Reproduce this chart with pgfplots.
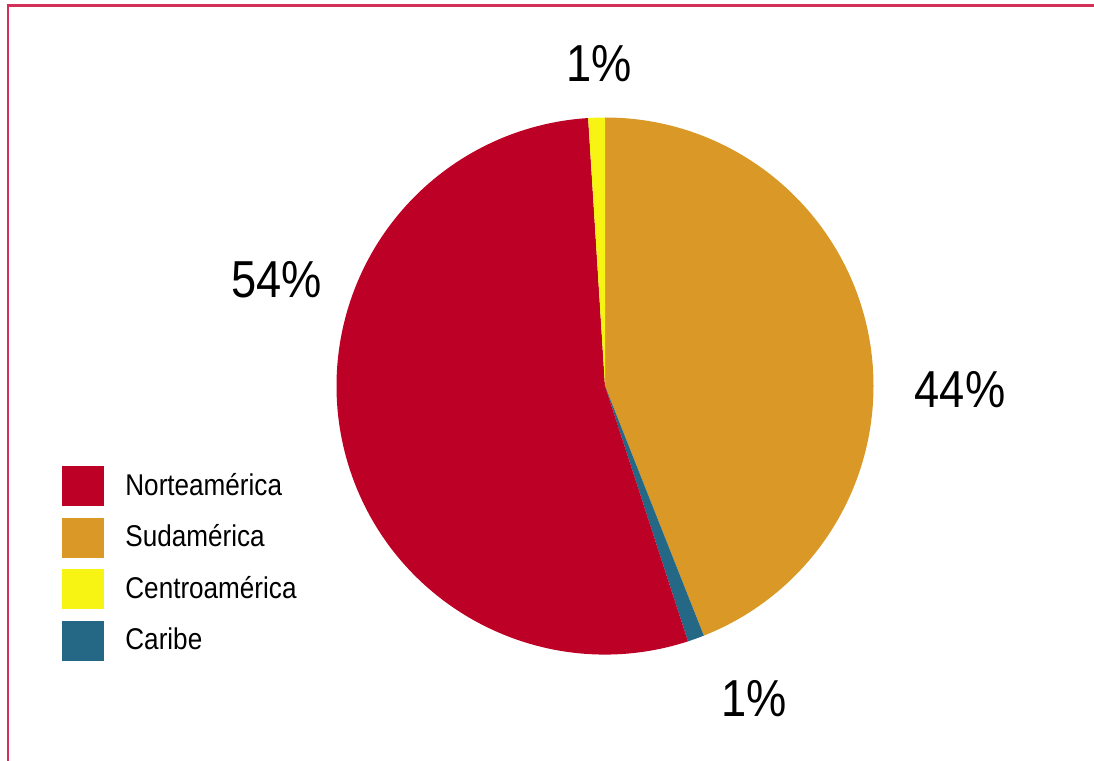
\documentclass[border=0pt]{standalone}
\usepackage{fontspec}
\setmainfont{Liberation Sans}[FakeStretch=0.87]
\usepackage{pgfplots}
\usepackage{pgfplotstable}
\pgfplotsset{compat=1.18}

\definecolor{nor}{RGB}{189,0,38}
\definecolor{sud}{RGB}{218,153,39}
\definecolor{cen}{RGB}{247,244,20}
\definecolor{car}{RGB}{36,104,134}
\definecolor{frame}{RGB}{210,48,88}

% shares in percent, clockwise from 12 o'clock
\pgfplotstableread{
share col
44 sud
1 car
54 nor
1 cen
}\piedata

\begin{document}
\begin{tikzpicture}
\begin{axis}[
    x=0.5pt, y=0.5pt,
    xmin=0, xmax=1094, ymin=0, ymax=761,
    hide axis, clip=false,
    legend style={at={(axis cs:62,295)}, anchor=north west, draw=none, fill=none,
        inner sep=0pt, row sep=5.75pt, font=\fontsize{15}{18}\selectfont,
        nodes={inner sep=0pt, text height=9pt, text depth=0pt},
        /tikz/every odd column/.append style={column sep=10.5pt}},
    legend cell align=left,
    legend image code/.code={\fill[#1] (0pt,-10pt) rectangle (21pt,10pt);},
]
% frame (left and top only, rest is cut off)
\draw[frame, line width=1.2pt] (axis cs:8,0) -- (axis cs:8,755.5) -- (axis cs:1094,755.5);

% pie sectors
\pgfmathsetmacro\pieA{90}
\pgfplotsforeachungrouped \i in {0,...,3}{%
  \pgfplotstablegetelem{\i}{share}\of\piedata \let\pieV\pgfplotsretval
  \pgfplotstablegetelem{\i}{col}\of\piedata \let\pieC\pgfplotsretval
  \pgfmathsetmacro\pieB{\pieA-3.6*\pieV}%
  \edef\temp{\noexpand\fill[\pieC] (axis cs:605,375) -- ++(\pieA:134.25pt)
    arc[start angle=\pieA, end angle=\pieB, radius=134.25pt] -- cycle;}%
  \temp
  \global\let\pieA\pieB
}

\addlegendimage{fill=nor, draw=none}
\addlegendentry{Norteamérica}
\addlegendimage{fill=sud, draw=none}
\addlegendentry{Sudamérica}
\addlegendimage{fill=cen, draw=none}
\addlegendentry{Centroamérica}
\addlegendimage{fill=car, draw=none}
\addlegendentry{Caribe}

\begin{scope}[every node/.style={font=\fontsize{26}{30}\selectfont, anchor=base}]
\node at (axis cs:599,679) {1\%};
\node at (axis cs:276.5,463) {54\%};
\node at (axis cs:960,353) {44\%};
\node at (axis cs:754,45) {1\%};
\end{scope}
\end{axis}
\pgfresetboundingbox
\path[use as bounding box] (0,0) rectangle (547pt,380.5pt);
\end{tikzpicture}
\end{document}
